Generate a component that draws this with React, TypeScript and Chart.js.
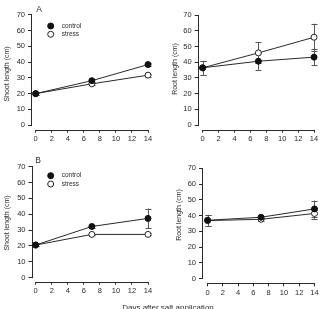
import { useEffect, useRef } from "react";
import { Chart, registerables } from "chart.js";

Chart.register(...registerables);

// Sampling days and axis tick values
const days = [0, 7, 14];
const xTickValues = [0, 2, 4, 6, 8, 10, 12, 14];
const yTickValues = [0, 10, 20, 30, 40, 50, 60, 70];

const seriesNames = ["control", "stress"];
const yTitles = ["Shoot length (cm)", "Root length (cm)"];
const panelLetters = ["A", "B"];
const xTitle = "Days after salt application";

// Experiment A
const shootAControl = [20, 28.2, 38.4];
const shootAControlErr = [0.6, 0.8, 1.0];
const shootAStress = [20, 26.2, 31.7];
const shootAStressErr = [0.6, 0.7, 0.9];

const rootAControl = [36.5, 40.7, 43.3];
const rootAControlErr = [4.4, 5.5, 5.1];
const rootAStress = [36.5, 46.0, 56.0];
const rootAStressErr = [4.4, 6.7, 8.6];

// Experiment B
const shootBControl = [20.6, 32.3, 37.4];
const shootBControlErr = [0.6, 0.9, 6.2];
const shootBStress = [20.6, 27.3, 27.3];
const shootBStressErr = [0.5, 0.5, 0.6];

const rootBControl = [37.0, 38.9, 44.2];
const rootBControlErr = [3.4, 1.0, 5.3];
const rootBStress = [36.8, 37.6, 41.3];
const rootBStressErr = [3.4, 0.8, 3.4];

const FONT = "'Liberation Sans', Arial, Helvetica, sans-serif";
const INK = "#2a2a2a";

type Frame = {
  w: number;
  h: number;
  axisX: number;
  x0: number;
  x14: number;
  y70: number;
  y0: number;
  axisY: number;
  titleX: number;
  titleY: number;
  letterX?: number;
  letterY?: number;
  legendX?: number;
  legendY?: number;
};

type PanelDef = {
  left: number;
  top: number;
  frame: Frame;
  title: string;
  letter?: string;
  control: number[];
  controlErr: number[];
  stress: number[];
  stressErr: number[];
};

const panels: PanelDef[] = [
  {
    left: 0,
    top: 0,
    frame: { w: 162, h: 155, axisX: 32, x0: 35.7, x14: 148, y70: 14.7, y0: 125.2, axisY: 129.7, titleX: 7, titleY: 74, letterX: 39, letterY: 10, legendX: 50.7, legendY: 26 },
    title: yTitles[0],
    letter: panelLetters[0],
    control: shootAControl,
    controlErr: shootAControlErr,
    stress: shootAStress,
    stressErr: shootAStressErr,
  },
  {
    left: 162,
    top: 0,
    frame: { w: 162, h: 155, axisX: 36.7, x0: 40.7, x14: 153, y70: 15.3, y0: 125, axisY: 129.7, titleX: 12.6, titleY: 69 },
    title: yTitles[1],
    control: rootAControl,
    controlErr: rootAControlErr,
    stress: rootAStress,
    stressErr: rootAStressErr,
  },
  {
    left: 0,
    top: 155,
    frame: { w: 162, h: 154, axisX: 32.5, x0: 35.7, x14: 148, y70: 11.7, y0: 122.7, axisY: 126.7, titleX: 7, titleY: 68, letterX: 38, letterY: 5.5, legendX: 50.7, legendY: 20.7 },
    title: yTitles[0],
    letter: panelLetters[1],
    control: shootBControl,
    controlErr: shootBControlErr,
    stress: shootBStress,
    stressErr: shootBStressErr,
  },
  {
    left: 162,
    top: 155,
    frame: { w: 162, h: 154, axisX: 41, x0: 45.8, x14: 157.3, y70: 13.3, y0: 123.5, axisY: 128.3, titleX: 16.8, titleY: 60 },
    title: yTitles[1],
    control: rootBControl,
    controlErr: rootBControlErr,
    stress: rootBStress,
    stressErr: rootBStressErr,
  },
];

// Vertical error bars with caps, drawn under the lines and markers
const errorBarPlugin = {
  id: "errorBars",
  beforeDatasetsDraw(chart: any) {
    const { ctx } = chart;
    const xs = chart.scales.x;
    const ys = chart.scales.y;
    ctx.save();
    ctx.strokeStyle = "#555";
    ctx.lineWidth = 1;
    chart.data.datasets.forEach((ds: any) => {
      const errs: number[] = ds.errors || [];
      ds.data.forEach((pt: any, i: number) => {
        const e = errs[i] || 0;
        if (!e) return;
        const x = Math.round(xs.getPixelForValue(pt.x)) + 0.5;
        const yt = ys.getPixelForValue(pt.y + e);
        const yb = ys.getPixelForValue(pt.y - e);
        ctx.beginPath();
        ctx.moveTo(x, yt);
        ctx.lineTo(x, yb);
        ctx.moveTo(x - 3, Math.round(yt) + 0.5);
        ctx.lineTo(x + 3, Math.round(yt) + 0.5);
        ctx.moveTo(x - 3, Math.round(yb) + 0.5);
        ctx.lineTo(x + 3, Math.round(yb) + 0.5);
        ctx.stroke();
      });
    });
    ctx.restore();
  },
};

// Detached axis lines spanning only the tick range
const axisLinePlugin = {
  id: "axisLines",
  beforeDatasetsDraw(chart: any) {
    const { ctx, chartArea } = chart;
    const xs = chart.scales.x;
    const ys = chart.scales.y;
    const xl = Math.round(chartArea.left) - 0.5;
    const yb = Math.round(chartArea.bottom) + 0.5;
    ctx.save();
    ctx.strokeStyle = INK;
    ctx.lineWidth = 1;
    ctx.beginPath();
    ctx.moveTo(xl, ys.getPixelForValue(yTickValues[yTickValues.length - 1]));
    ctx.lineTo(xl, ys.getPixelForValue(yTickValues[0]) + 0.5);
    ctx.moveTo(xs.getPixelForValue(xTickValues[0]), yb);
    ctx.lineTo(xs.getPixelForValue(xTickValues[xTickValues.length - 1]), yb);
    ctx.stroke();
    ctx.restore();
  },
};

// Axis title, panel letter and in-plot key
const panelTextPlugin = {
  id: "panelText",
  afterDraw(chart: any, _args: any, opts: any) {
    const { ctx } = chart;
    const f: Frame = opts.frame;
    ctx.save();
    ctx.fillStyle = INK;
    ctx.font = `7px ${FONT}`;
    ctx.textAlign = "center";
    ctx.textBaseline = "middle";
    ctx.save();
    ctx.translate(f.titleX, f.titleY);
    ctx.rotate(-Math.PI / 2);
    ctx.fillText(opts.title, 0, 0);
    ctx.restore();

    if (opts.letter) {
      ctx.font = `8.5px ${FONT}`;
      ctx.fillText(opts.letter, f.letterX, f.letterY);
    }

    if (f.legendX !== undefined && f.legendY !== undefined) {
      const ds = chart.data.datasets;
      ds.forEach((d: any, i: number) => {
        const cy = f.legendY! + i * 8.3;
        ctx.beginPath();
        ctx.arc(f.legendX!, cy, 3, 0, Math.PI * 2);
        ctx.fillStyle = d.pointBackgroundColor;
        ctx.fill();
        ctx.strokeStyle = d.pointBorderColor;
        ctx.lineWidth = 1;
        ctx.stroke();
        ctx.fillStyle = INK;
        ctx.font = `6.5px ${FONT}`;
        ctx.textAlign = "left";
        ctx.fillText(d.label, f.legendX! + 11, cy);
      });
    }
    ctx.restore();
  },
};

function buildChart(canvas: HTMLCanvasElement, p: PanelDef) {
  const f = p.frame;
  const right = Math.min(f.x14 + 5, f.w);
  const pxX = (f.x14 - f.x0) / 14;
  const xMin = -(f.x0 - f.axisX) / pxX;
  const xMax = 14 + (right - f.x14) / pxX;
  const pxY = (f.y0 - f.y70) / 70;
  const yMin = -(f.axisY - f.y0) / pxY;
  const yMax = 70;

  const toPoints = (vals: number[]) => days.map((d, i) => ({ x: d, y: vals[i] }));

  const tickFont = { family: FONT, size: 7.5 };

  return new Chart(canvas, {
    type: "line",
    data: {
      datasets: [
        {
          label: seriesNames[0],
          data: toPoints(p.control),
          errors: p.controlErr,
          borderColor: INK,
          borderWidth: 1,
          pointRadius: 3,
          pointBackgroundColor: "#111",
          pointBorderColor: "#111",
          pointBorderWidth: 1,
          clip: false,
        } as any,
        {
          label: seriesNames[1],
          data: toPoints(p.stress),
          errors: p.stressErr,
          borderColor: INK,
          borderWidth: 1,
          pointRadius: 3,
          pointBackgroundColor: "#fff",
          pointBorderColor: "#222",
          pointBorderWidth: 1,
          clip: false,
        } as any,
      ],
    },
    options: {
      responsive: false,
      animation: false,
      events: [],
      layout: { padding: { left: 0, top: f.y70, right: f.w - right, bottom: 0 } },
      plugins: {
        legend: { display: false },
        tooltip: { enabled: false },
        panelText: { frame: f, title: p.title, letter: p.letter },
      } as any,
      scales: {
        x: {
          type: "linear",
          min: xMin,
          max: xMax,
          bounds: "data",
          border: { display: false },
          grid: { display: true, drawOnChartArea: false, drawTicks: true, tickLength: 3, color: INK, lineWidth: 1 },
          ticks: { font: tickFont, color: INK, padding: 2, maxRotation: 0, autoSkip: false },
          afterBuildTicks: (s: any) => {
            s.ticks = xTickValues.map((v) => ({ value: v }));
          },
          afterFit: (s: any) => {
            s.height = f.h - f.axisY;
          },
        },
        y: {
          type: "linear",
          min: yMin,
          max: yMax,
          bounds: "data",
          border: { display: false },
          grid: { display: true, drawOnChartArea: false, drawTicks: true, tickLength: 4, color: INK, lineWidth: 1 },
          ticks: { font: tickFont, color: INK, padding: 3, autoSkip: false },
          afterBuildTicks: (s: any) => {
            s.ticks = yTickValues.map((v) => ({ value: v }));
          },
          afterFit: (s: any) => {
            s.width = f.axisX;
          },
        },
      },
    } as any,
    plugins: [axisLinePlugin, errorBarPlugin, panelTextPlugin],
  });
}

function Panel({ p }: { p: PanelDef }) {
  const ref = useRef<HTMLCanvasElement | null>(null);
  useEffect(() => {
    if (!ref.current) return;
    const chart = buildChart(ref.current, p);
    return () => chart.destroy();
  }, [p]);
  return (
    <canvas
      ref={ref}
      width={p.frame.w}
      height={p.frame.h}
      style={{ position: "absolute", left: p.left, top: p.top, width: p.frame.w, height: p.frame.h }}
    />
  );
}

export default function App() {
  return (
    <div
      style={{
        position: "fixed",
        left: 0,
        top: 0,
        width: 324,
        height: 309,
        background: "#fff",
        overflow: "hidden",
      }}
    >
      {panels.map((p, i) => (
        <Panel key={i} p={p} />
      ))}
      <div
        style={{
          position: "absolute",
          left: 68,
          top: 301.5,
          width: 200,
          textAlign: "center",
          font: `8px ${FONT}`,
          lineHeight: "11px",
          color: INK,
          whiteSpace: "nowrap",
        }}
      >
        {xTitle}
      </div>
    </div>
  );
}
